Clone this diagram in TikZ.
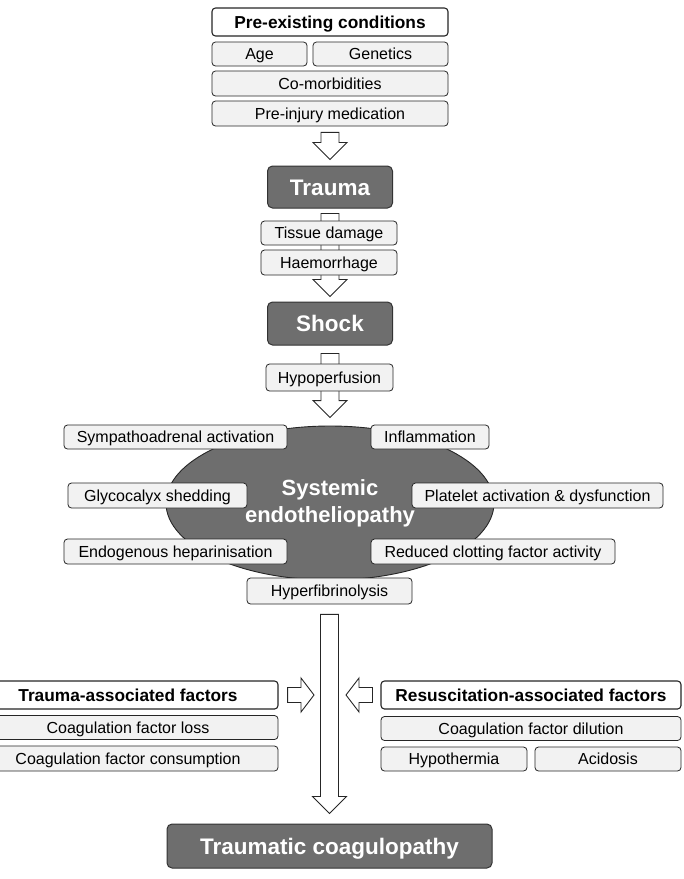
\documentclass[tikz,border=0pt]{standalone}
\usepackage{fontspec}
\setmainfont{Liberation Sans}
\usepackage{xcolor}
\usepackage{tikz}
\usetikzlibrary{shapes.geometric,calc,backgrounds,positioning}

\definecolor{darkfill}{HTML}{6E6E6E}
\definecolor{lightfill}{HTML}{F2F2F2}

\newcommand{\flowdown}[3][6pt]{%
  \draw[hollow] let \p1=(#2.south), \p2=(#3.north) in
    (\x1-9pt,\y1-#1) -- (\x1+9pt,\y1-#1) -- (\x1+9pt,\y2+#1+17pt) -- (\x1+17pt,\y2+#1+17pt)
    -- (\x1,\y2+#1) -- (\x1-17pt,\y2+#1+17pt) -- (\x1-9pt,\y2+#1+17pt) -- cycle;}
\newcommand{\flowright}[2]{%
  \draw[hollow] let \p1=(#1.east), \p2=(#2) in
    (\x1+9pt,\y1-7.5pt) -- (\x2-13pt,\y1-7.5pt) -- (\x2-13pt,\y1-17pt) -- (\x2,\y1)
    -- (\x2-13pt,\y1+17pt) -- (\x2-13pt,\y1+7.5pt) -- (\x1+9pt,\y1+7.5pt) -- cycle;}
\newcommand{\flowleft}[2]{%
  \draw[hollow] let \p1=(#1.west), \p2=(#2) in
    (\x1-8pt,\y1-7.5pt) -- (\x2+13pt,\y1-7.5pt) -- (\x2+13pt,\y1-17pt) -- (\x2,\y1)
    -- (\x2+13pt,\y1+17pt) -- (\x2+13pt,\y1+7.5pt) -- (\x1-8pt,\y1+7.5pt) -- cycle;}

\begin{document}
\begin{tikzpicture}[x=1pt, y=-1pt,
    box/.style={draw=black!85, fill=lightfill, rounded corners=3.5pt, line width=0.8pt,
      inner sep=0pt, text height=11.5pt, text depth=0pt, font=\fontsize{16}{19}\selectfont},
    headbox/.style={box, fill=white, line width=1.1pt, text height=12.4pt,
      font=\fontsize{17.3}{20}\selectfont\bfseries},
    darkbox/.style={box, fill=darkfill, draw=black!80, line width=1pt, rounded corners=5pt,
      text=white, text height=16.1pt, font=\fontsize{22.5}{27}\selectfont\bfseries},
    hollow/.style={draw=black!85, fill=white, line width=0.9pt, line join=miter}]
    \useasboundingbox (0,0) rectangle (684,879);

    \node[headbox, minimum width=236, minimum height=28] (preexisting) at (330,22) {Pre-existing conditions};
    \node[box, minimum width=95, minimum height=24] (age) at (259.5,54) {Age};
    \node[box, minimum width=135, minimum height=24] (genetics) at (380.5,54) {Genetics};
    \node[box, minimum width=236, minimum height=25] (comorb) at (330,83.5) {Co-morbidities};
    \node[box, minimum width=236, minimum height=25] (medication) at (330,113.5) {Pre-injury medication};

    \node[darkbox, minimum width=125, minimum height=42] (trauma) at (330,187) {Trauma};
    \node[box, minimum width=136, minimum height=24] (tissue) at (329,233) {Tissue damage};
    \node[box, minimum width=136, minimum height=25] (haemorrhage) at (329,262.5) {Haemorrhage};

    \node[darkbox, minimum width=125, minimum height=43] (shock) at (330,323.5) {Shock};
    \node[box, minimum width=127, minimum height=27] (hypoperfusion) at (329.5,377.5) {Hypoperfusion};

    \node[ellipse, draw=black!85, fill=darkfill, line width=0.9pt, inner sep=0pt,
      minimum width=328, minimum height=154, align=center, text=white,
      font=\fontsize{22}{27}\selectfont\bfseries] (endo) at (330,503) {Systemic\\endotheliopathy};
    \node[box, minimum width=223, minimum height=24] (sympatho) at (175.5,437) {Sympathoadrenal activation};
    \node[box, minimum width=118, minimum height=24] (inflammation) at (430,437) {Inflammation};
    \node[box, minimum width=179, minimum height=25] (glycocalyx) at (157.5,495.5) {Glycocalyx shedding};
    \node[box, minimum width=251, minimum height=25] (platelet) at (537.5,495.5) {Platelet activation \& dysfunction};
    \node[box, minimum width=223, minimum height=25] (heparin) at (175.5,551.5) {Endogenous heparinisation};
    \node[box, minimum width=244, minimum height=25] (clotting) at (493,551.5) {Reduced clotting factor activity};
    \node[box, minimum width=165, minimum height=26] (fibrinolysis) at (329.5,591) {Hyperfibrinolysis};

    \node[headbox, minimum width=300, minimum height=28] (traumafac) at (128,695) {Trauma-associated factors};
    \node[box, minimum width=300, minimum height=24] (loss) at (128,727.5) {Coagulation factor loss};
    \node[box, minimum width=300, minimum height=25] (consumption) at (128,758.5) {Coagulation factor consumption};

    \node[headbox, minimum width=300, minimum height=28] (resusfac) at (531,695) {Resuscitation-associated factors};
    \node[box, minimum width=300, minimum height=24] (dilution) at (531,728.5) {Coagulation factor dilution};
    \node[box, minimum width=146, minimum height=24] (hypothermia) at (454,759) {Hypothermia};
    \node[box, minimum width=146, minimum height=24] (acidosis) at (608,759) {Acidosis};

    \node[darkbox, minimum width=325, minimum height=44] (coagulopathy) at (329.5,846) {Traumatic coagulopathy};

    \coordinate (joinL) at (314,695);
    \coordinate (joinR) at (346,695);

    \begin{scope}[on background layer]
        \flowdown{medication}{trauma}
        \flowdown[5pt]{trauma}{shock}
        \flowdown[8pt]{shock}{endo}
        \flowdown[10pt]{fibrinolysis}{coagulopathy}
    \end{scope}
    \flowright{traumafac}{joinL}
    \flowleft{resusfac}{joinR}
\end{tikzpicture}
\end{document}
